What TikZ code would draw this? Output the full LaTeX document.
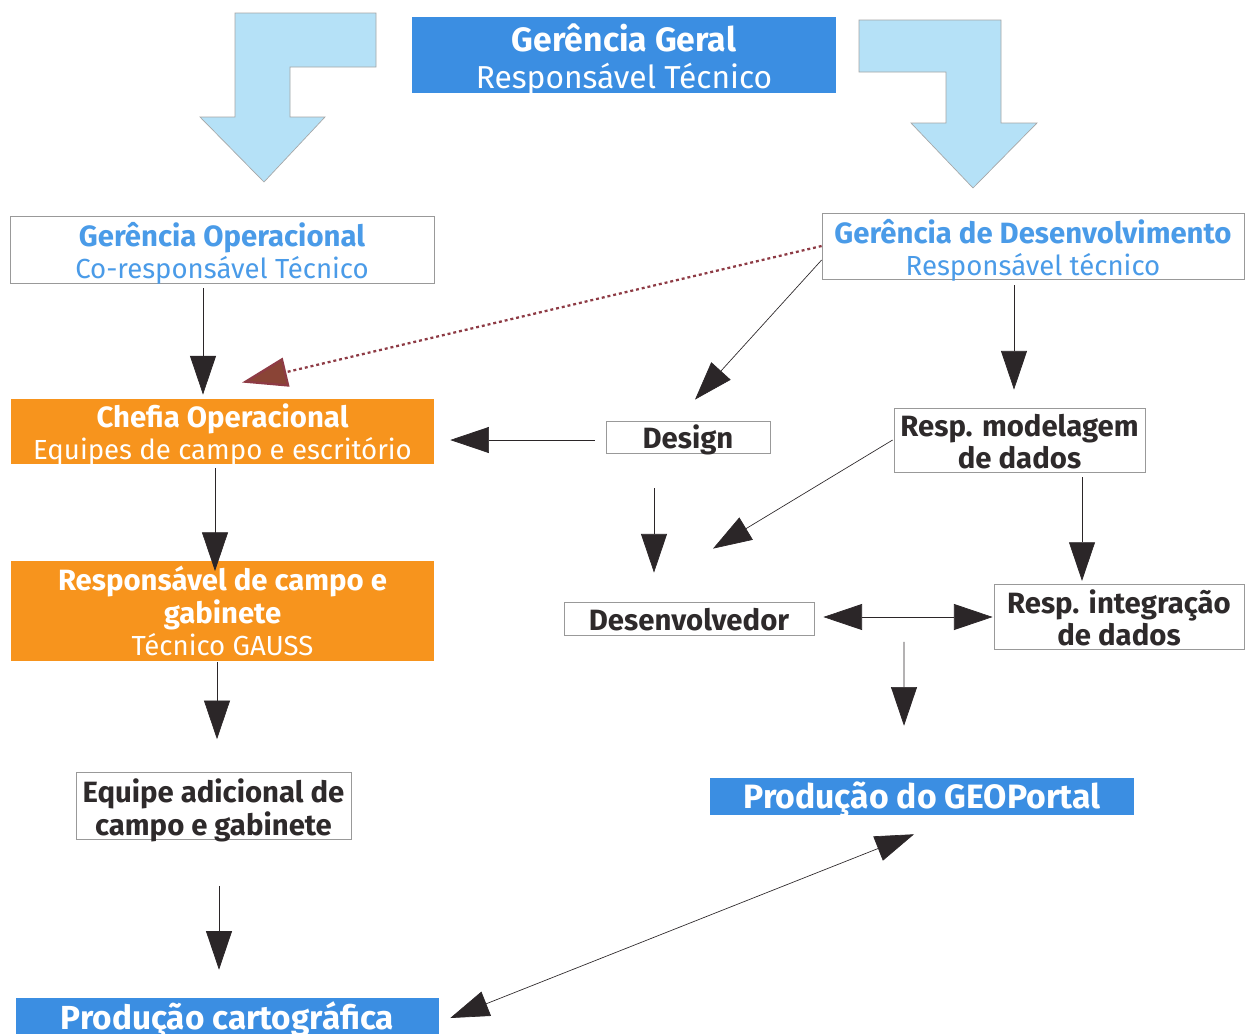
\documentclass[tikz,border=0pt]{standalone}
\usepackage{fontspec}
\setmainfont{Fira Sans}
\usetikzlibrary{arrows.meta,calc}
\definecolor{boxblue}{HTML}{3B8EE2}
\definecolor{txtblue}{HTML}{4A9BE8}
\definecolor{boxorange}{HTML}{F7941D}
\definecolor{arrowblue}{HTML}{B5E1F7}
\definecolor{darktxt}{HTML}{2E2A2B}
\definecolor{headcol}{HTML}{2B2628}
\definecolor{dotbrown}{HTML}{8E3B45}
\definecolor{headbrown}{HTML}{8A4436}
\newcommand\lns[2]{\raisebox{-#1}[\height][\depth]{\begin{tabular}{@{}c@{}}#2\end{tabular}}}
\newcommand\bx[1]{{\fontsize{22}{24}\selectfont\bfseries #1}}
\tikzset{
  base/.style={rectangle, inner sep=0pt, align=center, font=\fontsize{20.7}{24}\selectfont},
  bluebox/.style={base, fill=boxblue, text=white},
  orangebox/.style={base, fill=boxorange, text=white},
  whitebox/.style={base, draw=gray!80, line width=0.6pt, fill=white},
  bluetxt/.style={whitebox, text=txtblue},
  darkbox/.style={whitebox, text=darktxt, font=\fontsize{22}{24}\selectfont\bfseries},
  arr/.style={draw=gray!70!black, line width=0.5pt, -{Triangle[length=29pt,width=19.5pt]}, headcol},
  dblarr/.style={draw=gray!70!black, line width=0.5pt, {Triangle[length=29pt,width=19.5pt]}-{Triangle[length=29pt,width=19.5pt]}, headcol},
  dotarr/.style={draw=dotbrown, line width=1.7pt, dash pattern=on 2.2pt off 2.2pt, -{Triangle[length=34pt,width=22pt,fill=headbrown]}},
  bigarrow/.style={fill=arrowblue, draw=gray!70, line width=0.5pt}
}
\begin{document}
\begin{tikzpicture}[x=0.75pt,y=-0.75pt]
\useasboundingbox (0,0) rectangle (1245,1033);
\fill[white] (0,0) rectangle (1245,1033);

% big block arrows
\draw[bigarrow] (235,13) -- (376,13) -- (376,67) -- (290,67) -- (290,117) -- (325,117) -- (264,182) -- (200,117) -- (235,117) -- cycle;
\draw[bigarrow] (859,20) -- (1001,20) -- (1001,123) -- (1037,123) -- (973,188) -- (911,123) -- (946,123) -- (946,72) -- (859,72) -- cycle;

% nodes
\node[bluebox, minimum width=424*0.75pt, minimum height=74*0.75pt, font=\fontsize{23.8}{27.75}\selectfont] (gg) at (624,55)
  {\lns{4.7pt}{{\fontsize{25.3}{27.75}\selectfont\bfseries Gerência Geral}\\Responsável Técnico}};
\node[bluetxt, minimum width=424*0.75pt, minimum height=67*0.75pt] (gop) at (222,249.5)
  {\lns{4pt}{\bx{Gerência Operacional}\\Co-responsável Técnico}};
\node[bluetxt, minimum width=422*0.75pt, minimum height=66*0.75pt] (gdes) at (1033,246)
  {\lns{5pt}{\bx{Gerência de Desenvolvimento}\\Responsável técnico}};
\node[orangebox, minimum width=423*0.75pt, minimum height=65*0.75pt] (chefia) at (222.5,431.5)
  {\lns{3.7pt}{\bx{Chefia Operacional}\\Equipes de campo e escritório}};
\node[darkbox, minimum width=164*0.75pt, minimum height=32*0.75pt] (design) at (688,437) {\raisebox{-2pt}[\height][\depth]{Design}};
\node[darkbox, minimum width=251*0.75pt, minimum height=64*0.75pt] (model) at (1019.5,440)
  {\lns{4.8pt}{Resp. modelagem\\de dados}};
\node[darkbox, minimum width=250*0.75pt, minimum height=33*0.75pt] (dev) at (689,618.5) {\raisebox{-0.8pt}[\height][\depth]{Desenvolvedor}};
\node[darkbox, minimum width=250*0.75pt, minimum height=64*0.75pt] (integ) at (1119,617)
  {\lns{4.2pt}{Resp. integração\\de dados}};
\node[orangebox, minimum width=423*0.75pt, minimum height=96*0.75pt] (resp) at (222.5,611)
  {\lns{3.6pt}{\bx{Responsável de campo e}\\\bx{gabinete}\\Técnico GAUSS}};
\node[darkbox, minimum width=275*0.75pt, minimum height=66*0.75pt] (equipe) at (213.5,806)
  {\lns{4.3pt}{Equipe adicional de\\campo e gabinete}};
\node[bluebox, minimum width=423*0.75pt, minimum height=42*0.75pt, font=\fontsize{25}{27}\selectfont\bfseries] (cart) at (227.5,1019) {\raisebox{-0.5pt}[\height][\depth]{Produção cartográfica}};
\node[bluebox, minimum width=424*0.75pt, minimum height=37*0.75pt, font=\fontsize{25.3}{27}\selectfont\bfseries] (geo) at (922,796.5) {\raisebox{-2pt}[\height][\depth]{Produção do GEOPortal}};

% connectors
\draw[arr] ($(gop.south)+(-19,5)$) -- ($(chefia.north)+(-19.5,-4)$);
\draw[dotarr] (gdes.west) -- ($(chefia.north)+(19.5,-16)$);
\draw[arr] ($(gdes.west)+(0,14)$) -- ($(design.north)+(7,-21)$);
\draw[arr] ($(gdes.south)+(-19,6)$) -- ($(model.north)+(-5.5,-18)$);
\draw[arr] ($(design.west)+(-11,3)$) -- ($(chefia.east)+(16,8.5)$);
\draw[arr] ($(design.south)+(-34,35)$) -- ($(dev.north)+(-35,-29)$);
\draw[arr] ($(model.west)+(-1,0)$) -- ($(dev.north)+(24,-53)$);
\draw[arr] ($(model.south)+(62.5,5)$) -- ($(integ.north)+(-37,-3)$);
\draw[dblarr] ($(dev.east)+(9,-1.5)$) -- ($(integ.west)+(-1,0)$);
\draw[arr] ($($(dev.east)!0.5!(integ.west)$)+(0,24)$) -- ($(geo.north)+(-18,-52)$);
\draw[arr] ($(chefia.south)+(-7.5,4)$) -- ($(resp.north)+(-7.5,10)$);
\draw[arr] ($(resp.south)+(-5.5,1)$) -- ($(equipe.north)+(3.5,-33)$);
\draw[arr] ($(equipe.south)+(5.5,46)$) -- ($(cart.north)+(-8.5,-28)$);
\draw[dblarr] ($(cart.east)+(11,-1)$) -- ($(geo.south)+(-8,19)$);
\end{tikzpicture}
\end{document}
